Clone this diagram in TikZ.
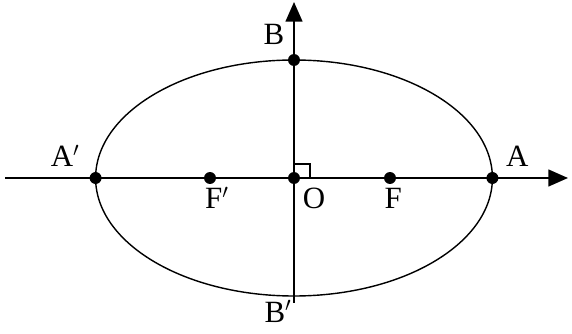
\documentclass[tikz,border=0pt]{standalone}
\usepackage{fontspec}
\setmainfont{Liberation Serif}
\usetikzlibrary{arrows.meta,positioning}
\tikzset{
  axis/.style={line width=1.3pt,-{Triangle[length=14pt,width=12pt]}},
  curve/.style={line width=1pt},
  pt/.style={circle,fill=black,inner sep=0pt,minimum size=8.5pt},
  lab/.style={font=\fontsize{22}{24}\selectfont,inner sep=0pt}
}
\begin{document}
\begin{tikzpicture}
\useasboundingbox (-7.35,-3.9) rectangle (6.95,4.45);
% axes
\coordinate (xl) at (-7.22,0);
\coordinate (xr) at (6.85,0);
\coordinate (yb) at (0,-3.12);
\coordinate (yt) at (0,4.4);
\draw[axis] (xl) -- (xr);
\draw[axis] (yb) -- (yt);
% ellipse
\draw[curve] (0,0) ellipse [x radius=4.96,y radius=2.95];
% right angle mark
\draw[line width=0.8pt] (0,0.35) -- (0.4,0.35) -- (0.4,0);
% points
\node[pt] (O) at (0,0) {};
\node[pt] (A) at (4.96,0) {};
\node[pt] (A1) at (-4.96,0) {};
\node[pt] (B) at (0,2.95) {};
\node[pt] (F) at (2.4,0) {};
\node[pt] (F1) at (-2.1,0) {};
% labels
\node[lab] (labB) at (-0.5,3.6) {B};
\node[lab] (labB1) at (-0.4,-3.33) {B$'$};
\node[lab] (labA) at (5.58,0.55) {A};
\node[lab] (labA1) at (-5.72,0.55) {A$'$};
\node[lab] (labO) at (0.5,-0.5) {O};
\node[lab] (labF) at (2.48,-0.5) {F};
\node[lab] (labF1) at (-1.93,-0.5) {F$'$};
\end{tikzpicture}
\end{document}
